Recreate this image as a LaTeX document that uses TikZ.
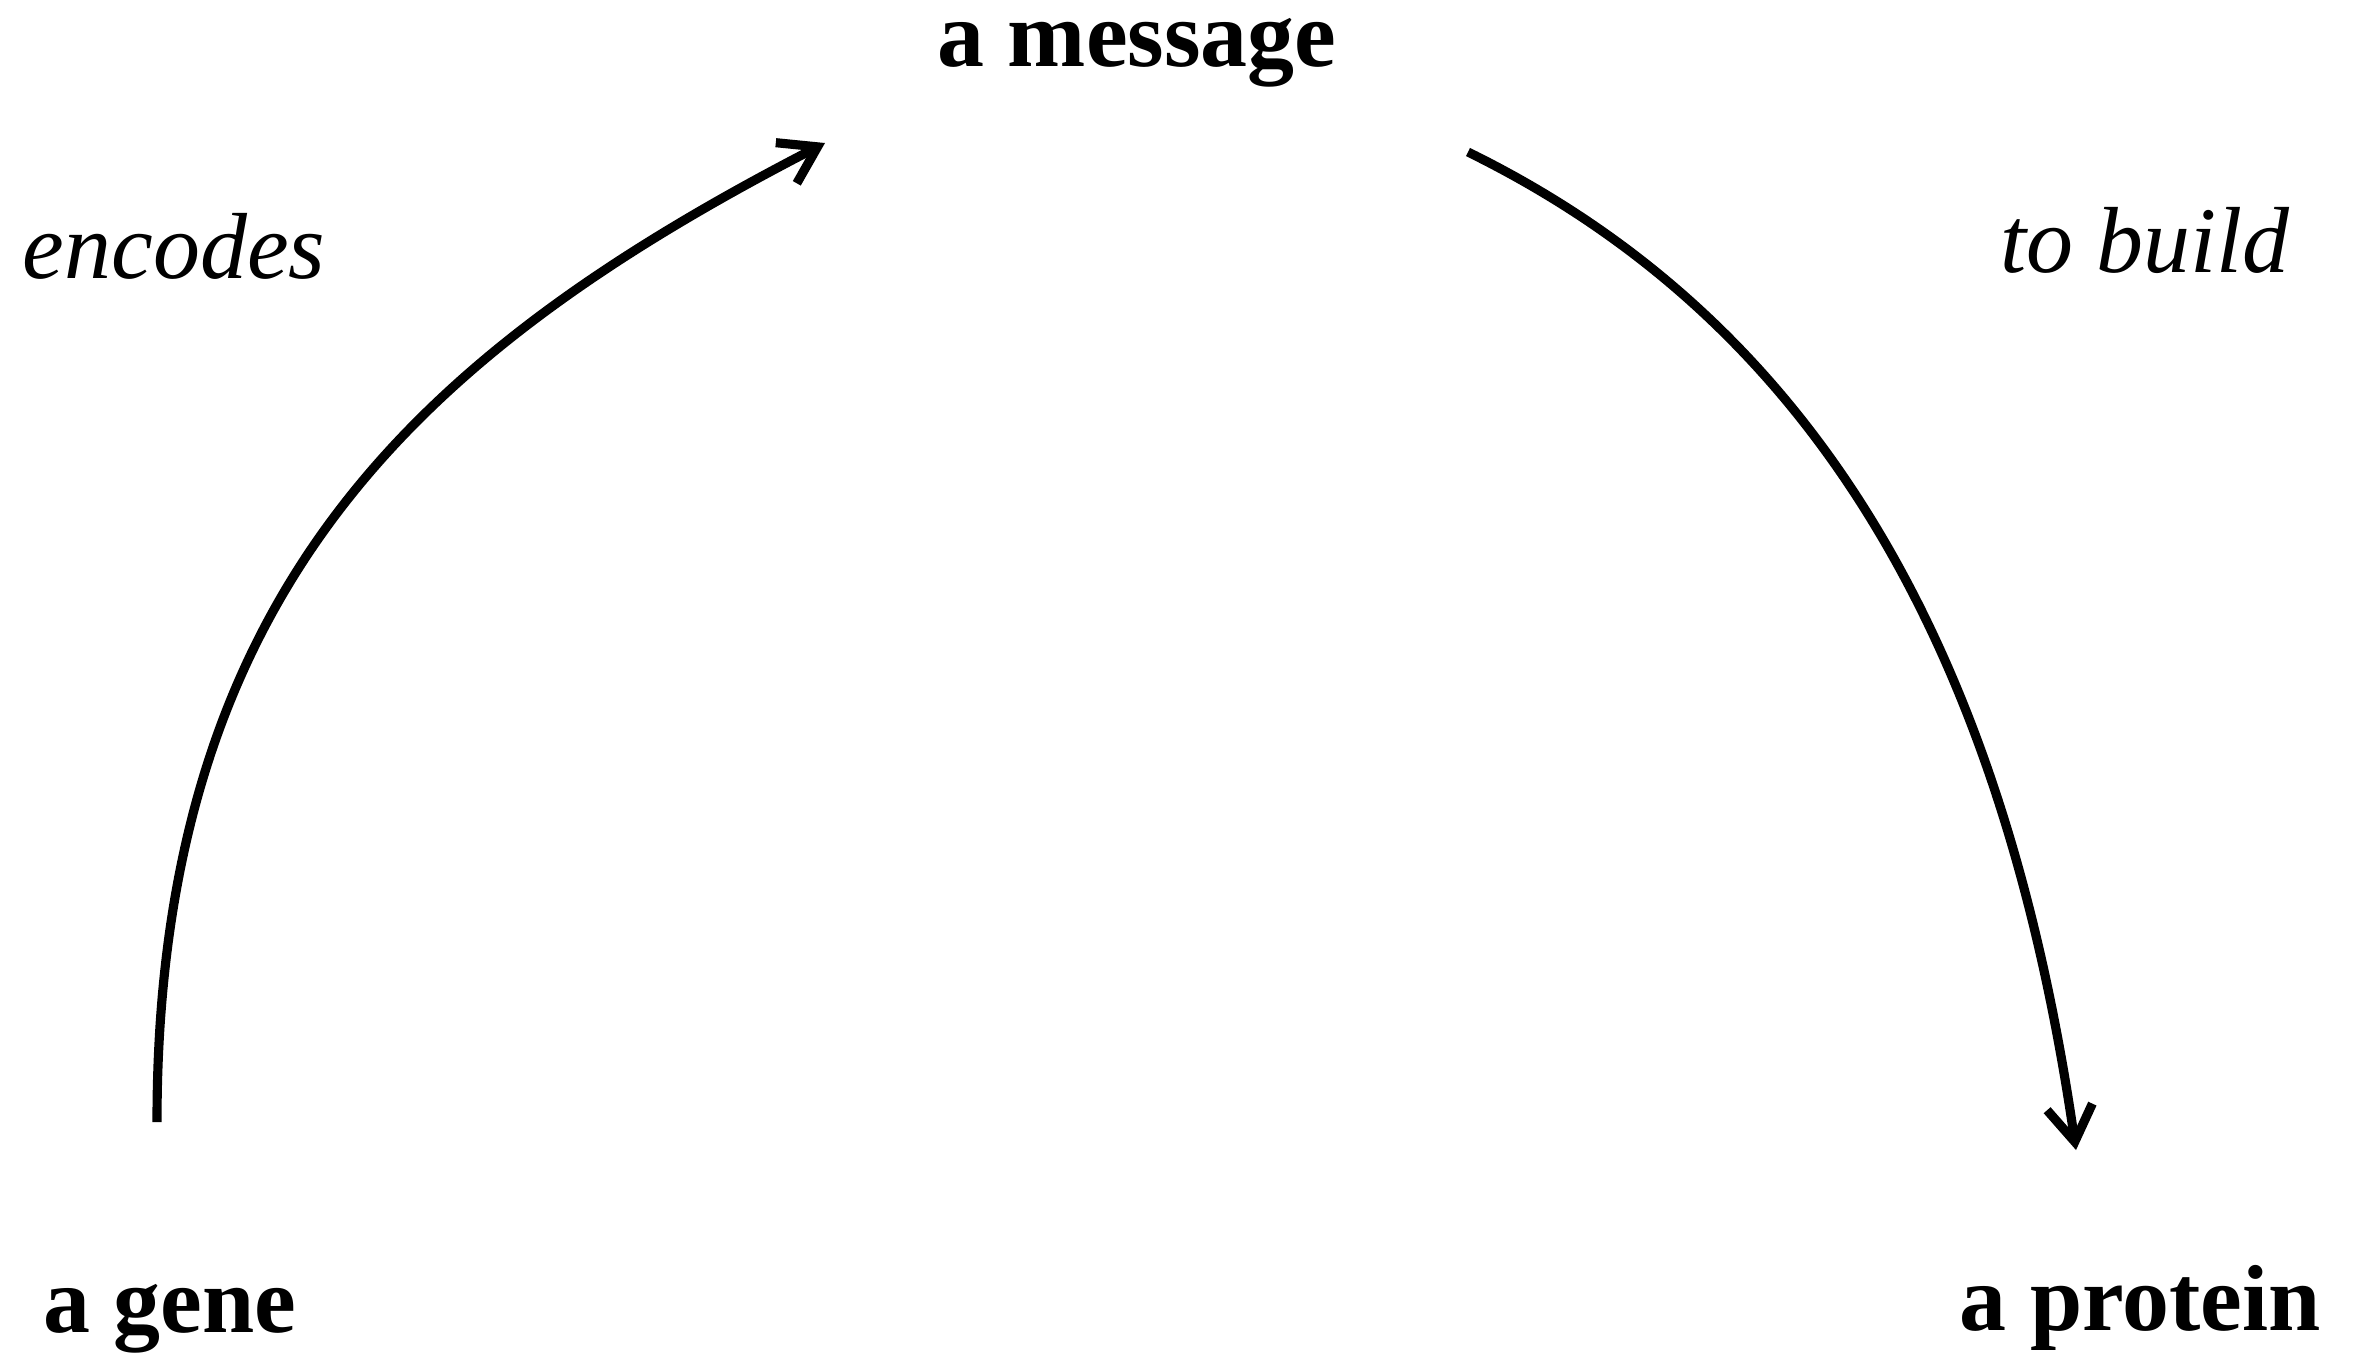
\documentclass[tikz,border=0pt]{standalone}
\usepackage{fontspec}
\setmainfont{Liberation Serif}
\usetikzlibrary{arrows.meta}

\begin{document}
\begin{tikzpicture}[x=0.01cm,y=-0.01cm,
  >={Straight Barb[length=10pt,width=13pt,line cap=butt]},
  term/.style={inner sep=0pt,anchor=base,font=\fontsize{26.7}{32}\selectfont\bfseries},
  verb/.style={inner sep=0pt,anchor=base,font=\fontsize{26.7}{32}\selectfont\itshape},
  flow/.style={->,line width=2.6pt}]
  \useasboundingbox (0,0) rectangle (2362,1353);
  \node[term] (msg)  at (1137,66)   {a message};
  \node[term] (gene) at (170,1332)  {a gene};
  \node[term] (prot) at (2140,1330) {a protein};
  \node[verb] (enc)  at (174,278)   {encodes};
  \node[verb] (bld)  at (2145,272)  {to build};
  \coordinate (geneout) at (157,1122);
  \coordinate (msgin)   at (825,143);
  \coordinate (msgout)  at (1468,152);
  \coordinate (protin)  at (2076,1150);
  \draw[flow] (geneout) .. controls (157,590) and (420,352) .. (msgin);
  \draw[flow] (msgout) .. controls (1810,320) and (2002,640) .. (protin);
\end{tikzpicture}
\end{document}
